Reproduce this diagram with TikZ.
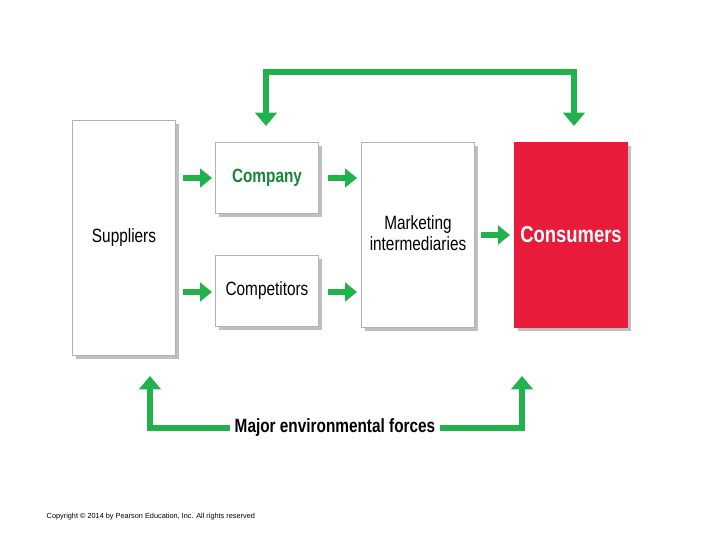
\documentclass[tikz,border=0pt]{standalone}
\usepackage{fontspec}
\setmainfont{Liberation Sans}
\usetikzlibrary{arrows.meta}
\definecolor{envgreen}{RGB}{34,178,76}
\definecolor{consred}{RGB}{232,28,58}
\tikzset{
  box/.style={draw=gray!60, fill=white, line width=0.6pt, drop shadow={}, inner sep=0pt},
  flow/.style={draw=envgreen, line width=5pt, -{Triangle[length=9pt,width=14pt]}},
  loop/.style={draw=envgreen, line width=5pt, {Triangle[length=10pt,width=16pt]}-{Triangle[length=10pt,width=16pt]}}
}
\usetikzlibrary{shadows}
\begin{document}
\begin{tikzpicture}[x=0.75pt,y=-0.75pt]
  \useasboundingbox (0,0) rectangle (720,540);
  % boxes
  \node[box, minimum width=77pt, minimum height=176pt] (sup) at (124,238) {\scalebox{0.8}[1]{\Large Suppliers}};
  \node[box, minimum width=77pt, minimum height=53pt] (com) at (267,178) {\scalebox{0.8}[1]{\Large\bfseries\color{envgreen!75!black} Company}};
  \node[box, minimum width=77pt, minimum height=53pt] (cmp) at (267,291) {\scalebox{0.8}[1]{\Large Competitors}};
  \node[box, minimum width=85pt, minimum height=139pt, align=center] (mi) at (418,235) {\scalebox{0.8}[1]{\Large\begin{tabular}{c}Marketing\\[-2pt]intermediaries\end{tabular}}};
  \node[box, fill=consred, draw=consred, minimum width=85pt, minimum height=139pt] (con) at (571,235) {\scalebox{0.8}[1]{\LARGE\bfseries\color{white} Consumers}};
  % small flow arrows
  \coordinate (a1) at (183,178); \coordinate (a2) at (212,178);
  \coordinate (b1) at (183,292); \coordinate (b2) at (212,292);
  \coordinate (c1) at (328,178); \coordinate (c2) at (357,178);
  \coordinate (d1) at (328,292); \coordinate (d2) at (357,292);
  \coordinate (e1) at (481,235); \coordinate (e2) at (510,235);
  \foreach \s/\t in {a1/a2,b1/b2,c1/c2,d1/d2,e1/e2}
    \draw[flow] (\s) -- (\t);
  % top loop
  \coordinate (t1) at (266,126); \coordinate (t2) at (574,126);
  \draw[loop] (t1) -- (266,72) -- (574,72) -- (t2);
  % environmental forces
  \node (env) at (335,428) {\scalebox{0.8}[1]{\Large\bfseries Major environmental forces}};
  \coordinate (l1) at (150,376); \coordinate (r1) at (522,376);
  \draw[flow, -{Triangle[length=10pt,width=16pt]}] (env.west) -- (150,428) -- (l1);
  \draw[flow, -{Triangle[length=10pt,width=16pt]}] (env.east) -- (522,428) -- (r1);
  \node[anchor=west, font=\fontsize{5.5}{6}\selectfont] (copy) at (42,517) {Copyright \textcopyright\ 2014 by Pearson Education, Inc. All rights reserved};
\end{tikzpicture}
\end{document}
